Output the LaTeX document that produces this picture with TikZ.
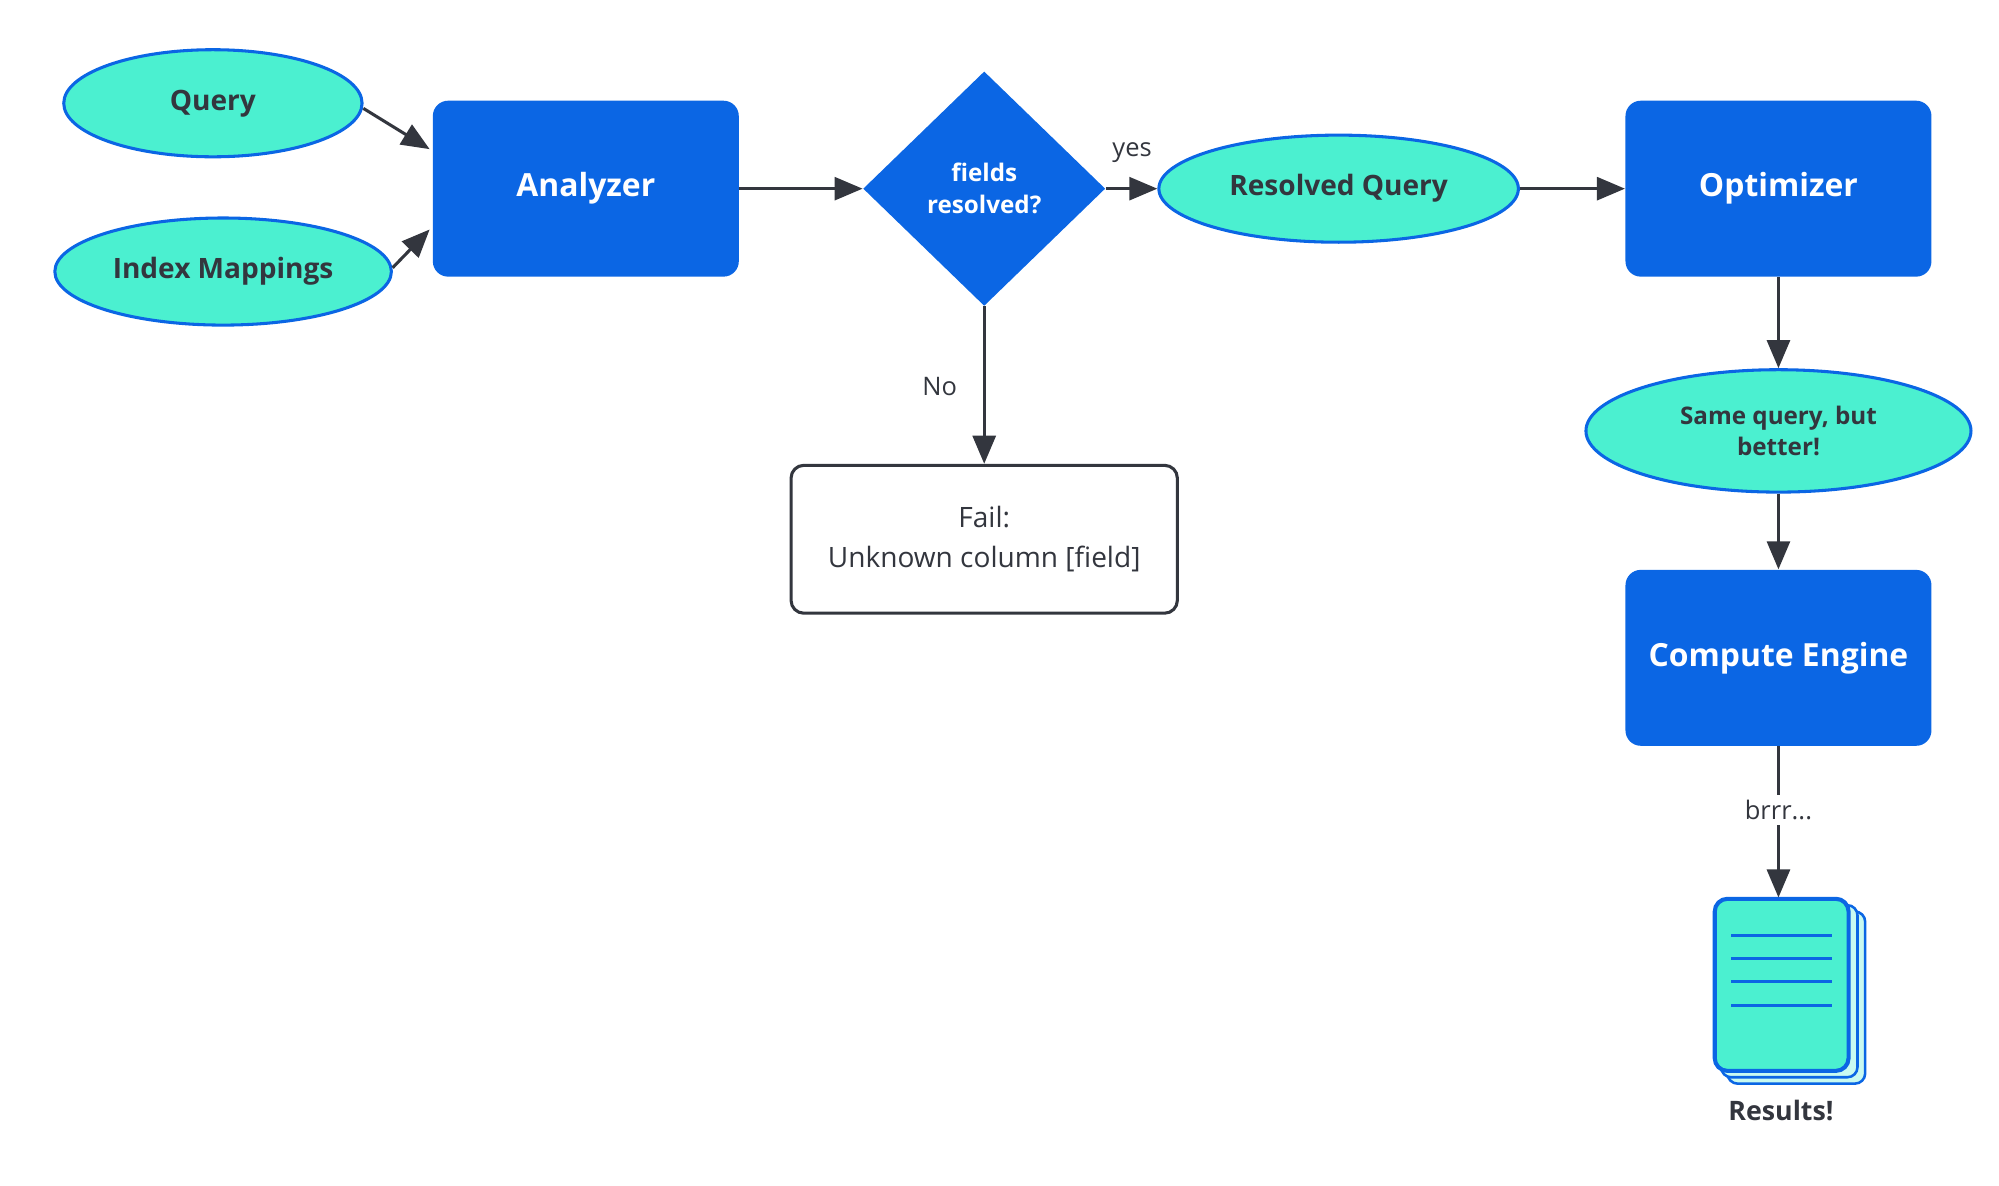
\documentclass[tikz,border=0pt]{standalone}
\usepackage{fontspec}
\setmainfont{Open Sans}
\usetikzlibrary{shapes.geometric,arrows.meta}
\definecolor{bl}{HTML}{0B66E4}
\definecolor{tl}{HTML}{4BF0D0}
\definecolor{dk}{HTML}{33363E}
\begin{document}
\begin{tikzpicture}[x=0.5pt,y=-0.5pt,
 ell/.style={ellipse,draw=bl,fill=tl,line width=1.2pt,text=dk,font=\bfseries\fontsize{11}{13}\selectfont,inner sep=0pt},
 box/.style={rectangle,rounded corners=6pt,fill=bl,text=white,font=\bfseries\fontsize{12.5}{15}\selectfont,minimum width=120pt,minimum height=69pt},
 arr/.style={draw=dk,line width=1.2pt,-{Triangle[length=11pt,width=9pt]}},
 lab/.style={text=dk,font=\fontsize{10}{12}\selectfont}]
\useasboundingbox (0,0) rectangle (1568,930);
\node[ell,minimum width=117pt,minimum height=42pt] (q) at (167,81) {Query};
\node[ell,minimum width=132pt,minimum height=42pt] (im) at (175,213) {Index Mappings};
\node[box] (an) at (459.5,148) {Analyzer};
\node[diamond,fill=bl,text=white,minimum width=95pt,minimum height=92pt,inner sep=0pt,align=center,font=\bfseries\fontsize{9.5}{12.5}\selectfont] (d) at (772,148) {fields\\resolved?};
\node[ell,minimum width=141pt,minimum height=42pt] (rq) at (1050,148) {Resolved Query};
\node[box] (op) at (1395,148) {Optimizer};
\node[ell,minimum width=151pt,minimum height=48pt,align=center,font=\bfseries\fontsize{9.5}{12}\selectfont] (sq) at (1395,338) {Same query, but\\better!};
\node[box] (ce) at (1395,516) {Compute Engine};
\node[draw=dk,line width=1.2pt,rounded corners=5pt,minimum width=151.5pt,minimum height=58pt,align=center,text=dk,font=\fontsize{11}{15.5}\selectfont] (f) at (772,423) {Fail:\\Unknown column [field]};
% document stack
\begin{scope}[draw=bl,line width=1pt]
\draw[fill=tl!30,rounded corners=4pt] (1355,715) rectangle (1463,850);
\draw[fill=tl!30,rounded corners=4pt] (1350,710) rectangle (1457,845);
\draw[fill=tl,line width=1.6pt,rounded corners=5pt] (1345,705) rectangle (1450,840);
\foreach \yy in {734,752,770,789} \draw[line width=1.2pt] (1358,\yy) -- (1437,\yy);
\end{scope}
\coordinate (doc) at (1395,704);
\node[text=dk,font=\bfseries\fontsize{10.5}{12}\selectfont] (res) at (1397,871) {Results!};
\coordinate (qa) at (285,85); \coordinate (qb) at (337,117);
\coordinate (ia) at (308,210); \coordinate (ib) at (337,180);
\draw[arr] (qa) -- (qb);
\draw[arr] (ia) -- (ib);
\draw[arr] (an) -- (d);
\draw[arr] (d) -- (rq);
\draw[arr] (rq) -- (op);
\draw[arr] (op) -- (sq);
\draw[arr] (sq) -- (ce);
\draw[arr] (d) -- (f);
\draw[arr] (ce) -- node[pos=0.42,fill=white,lab,inner sep=2pt]{brrr...} (doc);
\node[lab] at (888,120) {yes};
\node[lab] at (737,303) {No};
\end{tikzpicture}
\end{document}
